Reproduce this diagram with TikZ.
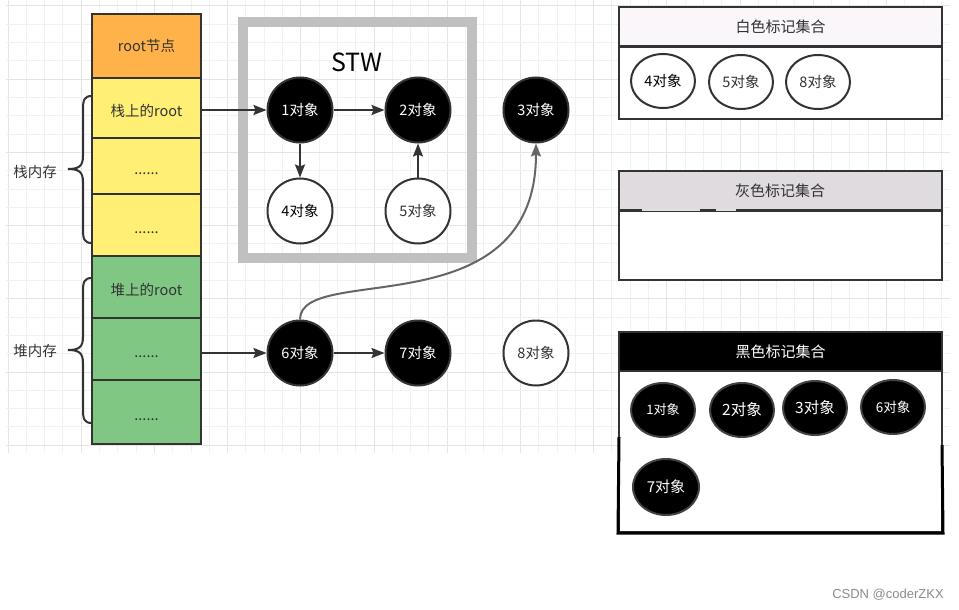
\documentclass[tikz,border=0pt]{standalone}
\usepackage{fontspec}
\setmainfont{Noto Sans CJK SC}
\newfontfamily\wmfont{Liberation Sans}
\usetikzlibrary{shapes.geometric,arrows.meta}
\definecolor{gridminor}{HTML}{F1F1F1}
\definecolor{gridmajor}{HTML}{E4E4E4}
\definecolor{ink}{HTML}{333333}
\definecolor{rootorange}{HTML}{FFB24A}
\definecolor{stackyellow}{HTML}{FFEF75}
\definecolor{heapgreen}{HTML}{80C784}
\definecolor{stwgray}{HTML}{C0C0C0}
\definecolor{whitehead}{HTML}{FAF6FA}
\definecolor{grayhead}{HTML}{DFDBDF}
\definecolor{curvegray}{HTML}{666666}
\tikzset{
  txt/.style={font=\fontsize{14.5}{17}\selectfont, text=ink},
  cell/.style={draw=ink, line width=2pt, minimum width=109pt, inner sep=0pt, txt, text height=16pt, text depth=0pt},
  objblack/.style={circle, draw=ink, line width=2pt, fill=black, minimum size=65pt, inner sep=0pt, txt, text=white},
  objwhite/.style={circle, draw=ink, line width=2pt, fill=white, minimum size=65pt, inner sep=0pt, txt},
  setell/.style={ellipse, draw=ink, line width=2pt, fill=white, minimum width=64pt, minimum height=54pt, inner sep=0pt, txt},
  setellb/.style={setell, fill=black, draw=ink!80!gray, text=white},
  edge/.style={draw=ink, line width=2pt, -{Stealth[length=13pt,width=10pt,inset=2pt]}},
  curveedge/.style={draw=curvegray, line width=2pt, -{Stealth[length=13pt,width=10pt,inset=2pt]}},
  sethead/.style={draw=ink, line width=2pt, minimum width=323pt, minimum height=39pt, inner sep=0pt, font=\fontsize{15}{18}\selectfont, text=ink},
  setbody/.style={draw=ink, line width=2pt, fill=white, minimum width=323pt, inner sep=0pt},
  sidelabel/.style={txt}
}
\begin{document}
\begin{tikzpicture}[x=1pt,y=-1pt]
\useasboundingbox (0,0) rectangle (959,610);
\fill[white] (0,0) rectangle (959,610);
% background grid
\foreach \k in {0,...,51} {
  \pgfmathtruncatemacro{\m}{mod(\k,4)}
  \ifnum\m=0
    \draw[gridmajor, line width=1pt] ({8+18.3*\k},0) -- ({8+18.3*\k},453);
  \else
    \draw[gridminor, line width=1pt] ({8+18.3*\k},0) -- ({8+18.3*\k},453);
  \fi
}
\foreach \k in {0,...,24} {
  \pgfmathtruncatemacro{\m}{mod(\k,4)}
  \ifnum\m=0
    \draw[gridmajor, line width=1pt] (6,{6+18.3*\k}) -- (950,{6+18.3*\k});
  \else
    \draw[gridminor, line width=1pt] (6,{6+18.3*\k}) -- (950,{6+18.3*\k});
  \fi
}

% memory column
\node[cell, fill=rootorange, minimum height=64pt, text height=11pt] (root) at (146.5,46) {root节点};
\node[cell, fill=stackyellow, minimum height=60pt] (s1) at (146.5,108) {栈上的root};
\node[cell, fill=stackyellow, minimum height=56pt] (s2) at (146.5,166) {......};
\node[cell, fill=stackyellow, minimum height=62pt] (s3) at (146.5,225) {......};
\node[cell, fill=heapgreen, minimum height=62pt] (h1) at (146.5,287) {堆上的root};
\node[cell, fill=heapgreen, minimum height=62pt] (h2) at (146.5,349) {......};
\node[cell, fill=heapgreen, minimum height=64pt] (h3) at (146.5,412) {......};

% braces
\draw[ink, line width=2pt] (92,96) .. controls (84,96) and (83,100) .. (83,110) -- (83,156) .. controls (83,166) and (79,169) .. (68,169) .. controls (79,169) and (83,172) .. (83,182) -- (83,229) .. controls (83,239) and (84,243) .. (92,243);
\node[sidelabel] (stacklabel) at (35,172) {栈内存};
\draw[ink, line width=2pt] (92,278) .. controls (84,278) and (83,282) .. (83,292) -- (83,337) .. controls (83,347) and (79,350) .. (68,350) .. controls (79,350) and (83,353) .. (83,363) -- (83,409) .. controls (83,419) and (84,423) .. (92,423);
\node[sidelabel] (heaplabel) at (35,351) {堆内存};

% STW box
\node[draw=stwgray, line width=9.5pt, minimum width=229pt, minimum height=236pt, inner sep=0pt] (stw) at (357.5,140) {};
\node[font=\fontsize{25}{30}\selectfont, text=black] (stwlabel) at (357,62) {STW};

% objects
\node[objblack] (o1) at (300,110) {1对象};
\node[objblack] (o2) at (418,110) {2对象};
\node[objblack] (o3) at (536,110) {3对象};
\node[objwhite, text=black] (o4) at (300,211) {4对象};
\node[objwhite] (o5) at (418,211) {5对象};
\node[objblack] (o6) at (300,353) {6对象};
\node[objblack] (o7) at (418,353) {7对象};
\node[objwhite] (o8) at (536,353) {8对象};

% edges
\draw[edge] (s1.east |- o1.west) -- (o1.west);
\draw[edge] (o1) -- (o2);
\draw[edge] (o1) -- (o4);
\draw[edge] (o5) -- (o2);
\draw[edge] (h2.east |- o6.west) -- (o6.west);
\draw[edge] (o6) -- (o7);
\draw[curveedge] (o6.north) .. controls (300,262) and (536,330) .. (o3.south);

% white set
\node[sethead, fill=whitehead] (wh) at (780.5,26.5) {白色标记集合};
\node[setbody, minimum height=73pt] (wb) at (780.5,82.5) {};
\draw[ink, line width=2pt] (wh.south west) -- (wh.south east);
\node[setell, text=black] (w4) at (663,81) {4对象};
\node[setell] (w5) at (741,82) {5对象};
\node[setell] (w8) at (818,82) {8对象};

% gray set
\node[sethead, fill=grayhead] (gh) at (780,190.5) {灰色标记集合};
\node[setbody, minimum height=70pt] (gb) at (780,245) {};
\draw[ink, line width=2pt] (gh.south west) -- (gh.south east);
\draw[white!85!ink, line width=2.2pt] (642,210) -- (700,210);
\draw[white!85!ink, line width=2.2pt] (716,210) -- (736,210);

% black set
\node[sethead, fill=black, text=white] (bh) at (780.5,351.5) {黑色标记集合};
\node[setbody, minimum height=161pt] (bb) at (780.5,451.5) {};
\draw[black, line width=3pt] (619,437) -- (bb.south west) -- (bb.south east) -- (942,445);
\node[setellb, font=\fontsize{13}{16}\selectfont] (k1) at (663,410) {1对象};
\node[setellb, font=\fontsize{15.5}{18}\selectfont] (k2) at (742,410) {2对象};
\node[setellb, font=\fontsize{15.5}{18}\selectfont] (k3) at (815,408) {3对象};
\node[setellb, font=\fontsize{13.5}{16}\selectfont] (k6) at (893,407) {6对象};
\node[setellb, font=\fontsize{15}{18}\selectfont, minimum width=66pt, minimum height=56pt] (k7) at (666,487) {7对象};

% watermark
\node[font=\wmfont\fontsize{13}{15}\selectfont, text=black!45] (wm) at (888,595) {CSDN @coderZKX};
\end{tikzpicture}
\end{document}
